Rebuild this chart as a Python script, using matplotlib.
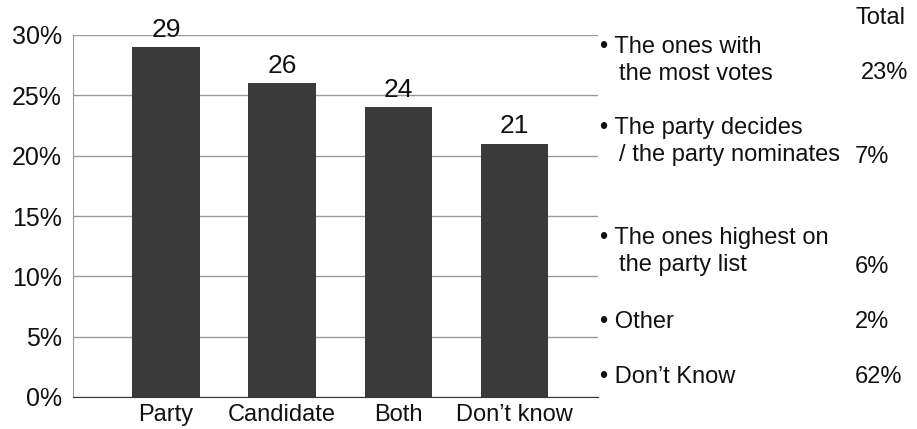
import matplotlib
matplotlib.use('Agg')
import matplotlib.pyplot as plt

plt.rcParams['font.family'] = ['Liberation Sans', 'DejaVu Sans']

# Data
categories = ['Party', 'Candidate', 'Both', "Don\u2019t know"]
values = [29, 26, 24, 21]
yticks = [0, 5, 10, 15, 20, 25, 30]

side_labels = [
    ["\u2022 The ones with", "the most votes"],
    ["\u2022 The party decides", "/ the party nominates"],
    ["\u2022 The ones highest on", "the party list"],
    ["\u2022 Other"],
    ["\u2022 Don\u2019t Know"],
]
side_totals = ['23%', '7%', '6%', '2%', '62%']

W, H = 917, 429
fig = plt.figure(figsize=(W / 100, H / 100), dpi=100)
ax = fig.add_axes([73 / W, 1 - 397 / H, 525 / W, 362 / H])

x = range(len(categories))
ax.bar(x, values, width=0.58, color='#3a3a3a', zorder=3)
for xi, v in zip(x, values):
    ax.text(xi, v + 0.45, str(v), ha='center', va='bottom', fontsize=19, color='#111111')

ax.set_xlim(-0.8, 3.72)
ax.set_ylim(0, 30)
ax.set_yticks(yticks)
ax.set_yticklabels([f'{t}%' for t in yticks], fontsize=18, color='#111111')
ax.set_xticks(list(x))
ax.set_xticklabels(categories, fontsize=17, color='#111111')
ax.tick_params(length=0)
ax.tick_params(axis='y', pad=8)
ax.tick_params(axis='x', pad=5)
ax.yaxis.grid(True, color='#9a9a9a', linewidth=1, zorder=0)
for s in ['top', 'right']:
    ax.spines[s].set_visible(False)
ax.spines['left'].set_color('#9a9a9a')
ax.spines['bottom'].set_color('#333333')

# right-hand side table
fig.text(855 / W, 1 - 18 / H, 'Total', fontsize=17, va='center', ha='left', color='#111111')
label_y = [47, 128, 238, 322, 377]
line_gap = 27
for lines, yy in zip(side_labels, label_y):
    for i, line in enumerate(lines):
        xx = 600 if i == 0 else 619
        fig.text(xx / W, 1 - (yy + i * line_gap) / H, line, fontsize=17,
                 va='center', ha='left', color='#111111')
total_y = [73, 157, 267, 322, 377]
total_x = [908, 855, 855, 855, 855]
for t, yy, xx in zip(side_totals, total_y, total_x):
    ha = 'right' if xx == 908 else 'left'
    fig.text(xx / W, 1 - yy / H, t, fontsize=17, va='center', ha=ha, color='#111111')

fig.savefig('out.png', dpi=100)
